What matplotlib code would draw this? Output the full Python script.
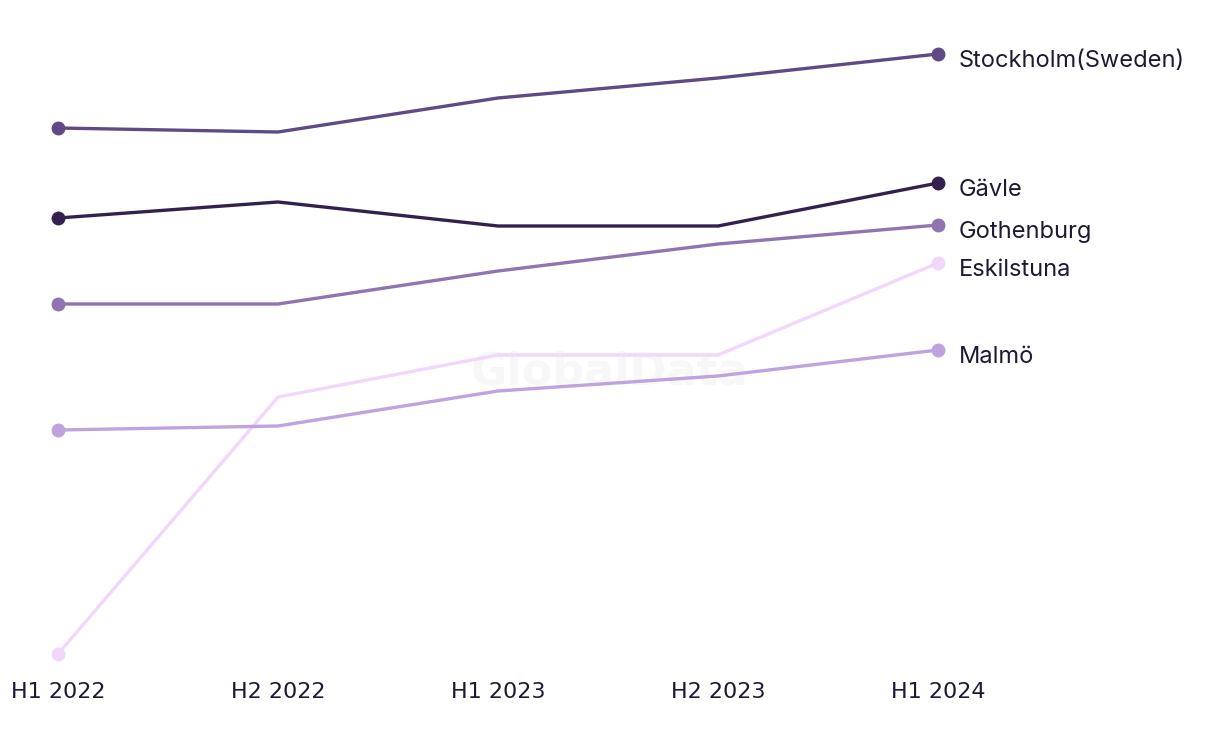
import matplotlib.pyplot as plt

periods = ["H1 2022", "H2 2022", "H1 2023", "H2 2023", "H1 2024"]
cities = ["Stockholm(Sweden)", "Gävle", "Gothenburg", "Eskilstuna", "Malmö"]
stockholm = [57.2, 56.8, 60.2, 62.2, 64.6]
gavle = [48.2, 49.8, 47.4, 47.4, 51.7]
gothenburg = [39.6, 39.6, 42.9, 45.6, 47.5]
eskilstuna = [4.6, 30.3, 34.5, 34.5, 43.7]
malmo = [27.0, 27.4, 30.9, 32.4, 35.0]
colors = ["#5f4a85", "#33204f", "#8f74b1", "#f0d7fb", "#bea3de"]

series = [stockholm, gavle, gothenburg, eskilstuna, malmo]
x = list(range(len(periods)))

fig = plt.figure(figsize=(12.2, 7.44), dpi=100)
# axes placed so the first/last points land where the reference puts them
ax = fig.add_axes([58 / 1220, 90 / 744, 880 / 1220, 600 / 744])

# faint watermark centred on the figure, drawn under the lines
ax.text(0.5, 1 - 372 / 744, "GlobalData", transform=fig.transFigure, ha="center", va="center",
        fontsize=32, fontweight="bold", color="#f7f7f7", family="DejaVu Sans", zorder=0)

for name, vals, col in zip(cities, series, colors):
    # only the end points get a dot
    ax.plot(x, vals, color=col, lw=2.4, marker="o", markersize=9, markevery=[0, len(x) - 1],
            clip_on=False, zorder=3)
    ax.annotate(name, (x[-1], vals[-1]), xytext=(15, -5), textcoords="offset points",
                va="center", ha="left", fontsize=17, color="#1c1a33", family="Inter",
                annotation_clip=False)

ax.set_xlim(0, 4)
ax.set_ylim(min(eskilstuna), max(stockholm))
ax.set_xticks(x)
ax.set_xticklabels(periods, fontsize=16, color="#1c1a33", family="Liberation Sans Narrow")
ax.tick_params(axis="x", length=0, pad=20)
ax.set_yticks([])
for side in ax.spines.values():
    side.set_visible(False)

fig.savefig("out.png", dpi=100)
